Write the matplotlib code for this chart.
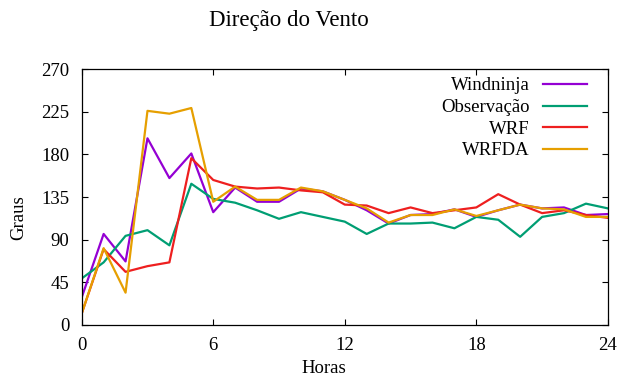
import numpy as np
import matplotlib
matplotlib.use("Agg")
import matplotlib.pyplot as plt

# Wind direction (degrees) over the 24 h run, one value per hour
horas = np.arange(0, 25)
windninja = [29, 96, 67, 197, 155, 181, 119, 145, 130, 130, 144, 141, 132, 121, 107, 116,
             117, 122, 114, 121, 127, 123, 124, 116, 117]
observacao = [49, 66, 94, 100, 84, 149, 133, 129, 121, 112, 119, 114, 109, 96, 107, 107,
              108, 102, 114, 111, 93, 114, 118, 128, 123]
wrf = [12, 80, 56, 62, 66, 176, 153, 146, 144, 145, 142, 140, 127, 126, 118, 124,
       118, 121, 124, 138, 127, 118, 121, 116, 113]
wrfda = [12, 81, 34, 226, 223, 229, 130, 146, 132, 132, 145, 141, 132, 123, 108, 116,
         116, 122, 115, 121, 127, 123, 122, 114, 114]

series = [
    ("Windninja", windninja, "#9400d3"),
    ("Observação", observacao, "#009e73"),
    ("WRF", wrf, "#ee1f1f"),
    ("WRFDA", wrfda, "#e69f00"),
]

plt.rcParams["font.family"] = ["Liberation Serif", "DejaVu Serif"]

fig = plt.figure(figsize=(6.19, 3.76), dpi=100)
ax = fig.add_axes([0.132, 0.136, 0.85, 0.68])

for nome, valores, cor in series:
    ax.plot(horas, valores, color=cor, lw=1.6, label=nome)

ax.set_xlim(0, 24)
ax.set_ylim(0, 270)
ax.set_xticks(np.arange(0, 25, 6))
ax.set_yticks(np.arange(0, 271, 45))
ax.tick_params(direction="in", length=4, width=0.8, top=True, right=True,
               labelsize=13.5, pad=9)
for s in ax.spines.values():
    s.set_linewidth(0.9)

fig.text(0.466, 0.945, "Direção do Vento", ha="center", va="center", fontsize=16.5)
fig.text(0.523, 0.02, "Horas", ha="center", va="center", fontsize=13.5)
fig.text(0.03, 0.42, "Graus", ha="center", va="center", rotation=90, fontsize=13.5)

# legend: label first, sample line to the right
ax.legend(loc="upper right", frameon=False, markerfirst=False, fontsize=13.5,
          handlelength=2.35, handletextpad=0.7, labelspacing=0.24,
          borderaxespad=0.2, bbox_to_anchor=(0.981, 1.012))

fig.savefig("out.png", dpi=100)
